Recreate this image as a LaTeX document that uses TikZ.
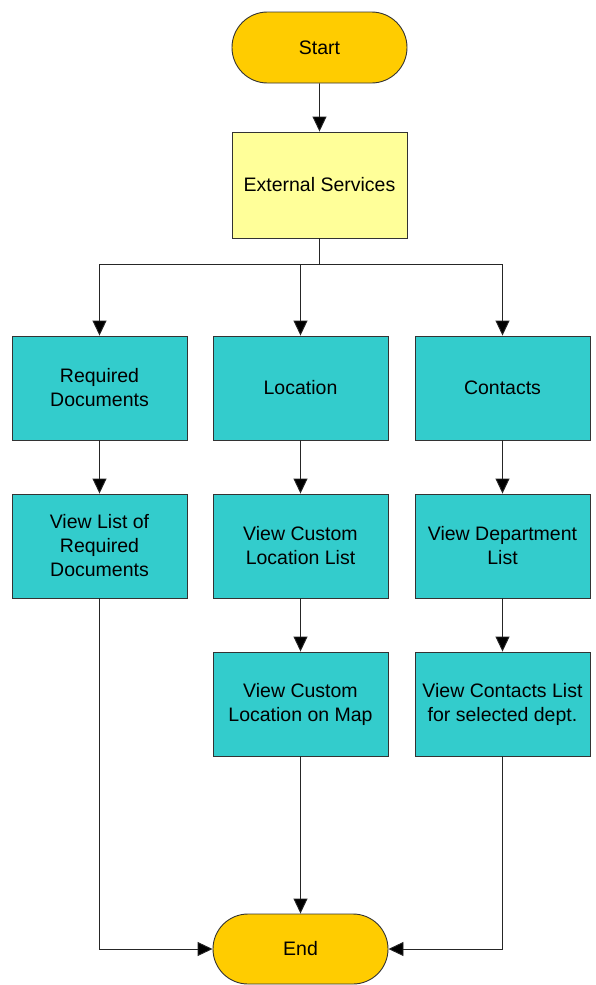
\documentclass[tikz,border=0pt]{standalone}
\usepackage{fontspec}
\setmainfont{Liberation Sans}
\usetikzlibrary{arrows.meta,shapes.misc}
\definecolor{gold}{HTML}{FFCC00}
\definecolor{paleyellow}{HTML}{FFFF99}
\definecolor{teal}{HTML}{33CCCC}
\definecolor{edge}{HTML}{333333}
\begin{document}
\begin{tikzpicture}[x=1pt,y=-1pt,
  box/.style={draw=edge, line width=0.9pt, fill=teal, minimum width=175pt, minimum height=104pt, align=center, inner sep=0pt, font=\fontsize{19.5}{24}\selectfont},
  ext/.style={box, fill=paleyellow, minimum height=106pt},
  term/.style={rounded rectangle, draw=edge, line width=0.9pt, fill=gold, minimum width=175pt, minimum height=71pt, inner sep=0pt, font=\fontsize{19.5}{24}\selectfont},
  arr/.style={draw=black!85, line width=0.9pt, -{Triangle[width=14pt,length=15pt,fill=black]}},
  ln/.style={draw=black!85, line width=0.9pt}]
\useasboundingbox (0,0) rectangle (595,985);
\node[term] (start) at (319.5,47.5) {Start};
\node[ext] (ext) at (319.5,185) {External Services};
\node[box] (req) at (99.5,388) {Required\\Documents};
\node[box] (loc) at (300.5,388) {Location};
\node[box] (con) at (502.5,388) {Contacts};
\node[box] (vlr) at (99.5,546) {View List of\\Required\\Documents};
\node[box] (vcl) at (300.5,546) {View Custom\\Location List};
\node[box] (vdl) at (502.5,546) {View Department\\List};
\node[box] (vcm) at (300.5,704) {View Custom\\Location on Map};
\node[box] (vcs) at (502.5,704) {View Contacts List\\for selected dept.};
\node[term, minimum height=70pt] (end) at (300.5,949) {End};
\coordinate (j) at (319.5,264);
\draw[arr] (start) -- (ext);
\draw[ln] (ext.south) -- (j);
\draw[arr] (j) -| (req.north);
\draw[arr] (j) -| (loc.north);
\draw[arr] (j) -| (con.north);
\draw[arr] (req) -- (vlr);
\draw[arr] (loc) -- (vcl);
\draw[arr] (con) -- (vdl);
\draw[arr] (vcl) -- (vcm);
\draw[arr] (vdl) -- (vcs);
\draw[arr] (vcm) -- (end);
\draw[arr] (vlr.south) |- (end.west);
\draw[arr] (vcs.south) |- (end.east);
\end{tikzpicture}
\end{document}
